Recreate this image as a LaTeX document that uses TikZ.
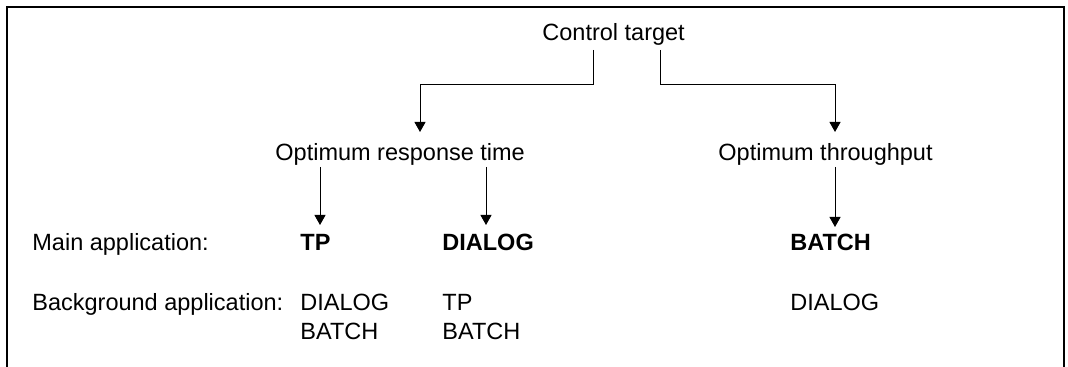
\documentclass[tikz,border=0pt]{standalone}
\usepackage{fontspec}
\setmainfont{Liberation Sans}
\usepackage{tikz}
\usetikzlibrary{calc}
\usetikzlibrary{arrows.meta}

\begin{document}
\begin{tikzpicture}[x=0.5pt,y=-0.5pt,
    txt/.style={anchor=base west,inner sep=0pt,font=\fontsize{11.75}{14}\selectfont},
    arr/.style={line width=0.5pt,-{Triangle[width=5.5pt,length=5pt]}}]
            \useasboundingbox (0,0) rectangle (1068,367);
            \draw[line width=0.6pt] (7,367) -- (7,7) -- (1064,7) -- (1064,367);
            \node[txt] (ctrl) at (542,41) {Control target};
            \node[txt] (resp) at (275,161) {Optimum response time};
            \node[txt] (thru) at (718,161) {Optimum throughput};
            \node[txt] (mainlbl) at (32,251) {Main application:};
            \node[txt] (bglbl) at (32,311) {Background application:};
            \node[txt] (mtp) at (300,251) {\textbf{TP}};
            \node[txt] (mdlg) at (442,251) {\textbf{DIALOG}};
            \node[txt] (mbatch) at (790,251) {\textbf{BATCH}};
            \node[txt] (bgdlg) at (300,311) {DIALOG};
            \node[txt] (bgbatch) at (300,340) {BATCH};
            \node[txt] (bgtp) at (442,311) {TP};
            \node[txt] (bgbatchb) at (442,340) {BATCH};
            \node[txt] (bgdlgb) at (790,311) {DIALOG};
            \draw[arr] ($(ctrl.base west)+(51,9)$) |- ($(resp.base west)+(145,-76)$) -- ($(resp.base west)+(145,-29)$);
            \draw[arr] ($(ctrl.base west)+(118,9)$) |- ($(thru.base west)+(117,-76)$) -- ($(thru.base west)+(117,-29)$);
            \draw[arr] ($(resp.base west)+(45,6)$) -- ($(mtp.base west)+(20,-26)$);
            \draw[arr] ($(resp.base west)+(211,6)$) -- ($(mdlg.base west)+(44,-26)$);
            \draw[arr] ($(thru.base west)+(117,6)$) -- ($(mbatch.base west)+(45,-24)$);
        \end{tikzpicture}
\end{document}
